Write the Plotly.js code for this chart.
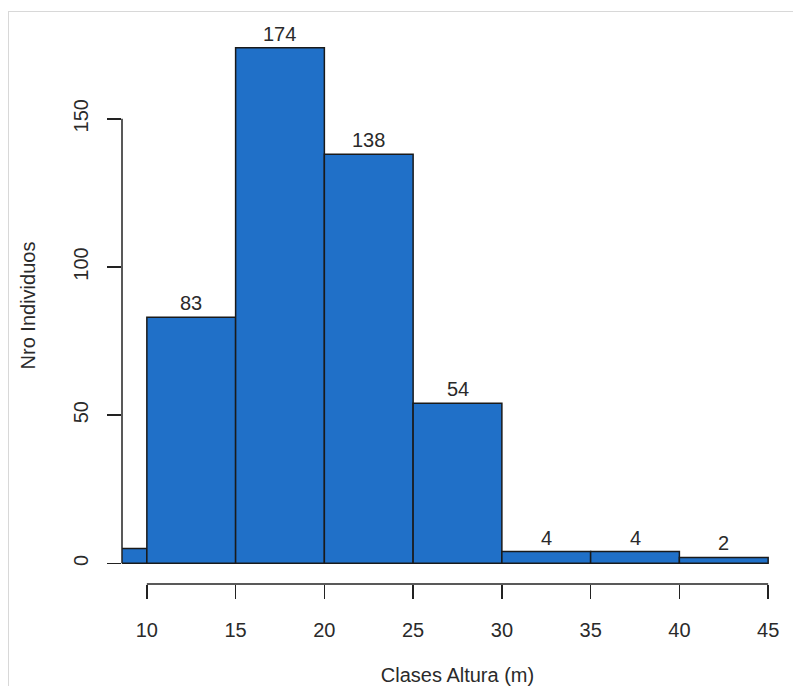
<!DOCTYPE html>
<html>
<head>
<meta charset="utf-8">
<script src="https://cdn.plot.ly/plotly-3.0.1.min.js"></script>
<style>
  html, body { margin: 0; padding: 0; background: #ffffff; }
  #wrap { position: relative; width: 793px; height: 686px; overflow: hidden; }
  #chart { position: absolute; left: 0; top: 0; width: 793px; height: 686px; }
  #frame { position: absolute; left: 8px; top: 11px; width: 800px; height: 700px;
           border-left: 1px solid #d8d8d8; border-top: 1px solid #d8d8d8; pointer-events: none; }
</style>
</head>
<body>
<div id="wrap">
  <div id="chart"></div>
  <div id="frame"></div>
</div>
<script>
// Height-class histogram: bin edges (m) and number of trees per bin
const breaks = [5, 10, 15, 20, 25, 30, 35, 40, 45];
const counts = [5, 83, 174, 138, 54, 4, 4, 2];
const xTicks = [10, 15, 20, 25, 30, 35, 40, 45];
const yTicks = [0, 50, 100, 150];

const mids = counts.map((_, i) => (breaks[i] + breaks[i + 1]) / 2);
const widths = counts.map((_, i) => breaks[i + 1] - breaks[i]);

const font = '"Liberation Sans", Arial, sans-serif';
const ink = '#222222';
const textInk = '#2a2a2a';
const xRange = [8.6, 46.4];

const bars = {
  type: 'bar',
  x: mids,
  y: counts,
  width: widths,
  marker: { color: '#2070c8', line: { color: '#1a1a1a', width: 1.5 } },
  hoverinfo: 'x+y',
  showlegend: false
};

// Count printed above each bar (bins whose centre lies outside the x range stay hidden)
const countLabels = mids.map((m, i) => ({
  xref: 'x', yref: 'y',
  x: m, y: counts[i],
  text: String(counts[i]),
  showarrow: false,
  xanchor: 'center', yanchor: 'bottom',
  yshift: 1,
  visible: m >= xRange[0] && m <= xRange[1],
  font: { family: font, size: 20, color: textInk }
}));

// R-style axis lines that only run from the first to the last tick
const axisLines = [
  { type: 'line', xref: 'x', yref: 'paper',
    x0: xTicks[0], x1: xTicks[xTicks.length - 1], y0: 0, y1: 0,
    line: { color: ink, width: 1.5 } },
  { type: 'line', xref: 'paper', yref: 'y',
    x0: 0, x1: 0, y0: yTicks[0], y1: yTicks[yTicks.length - 1],
    line: { color: ink, width: 1.5 } }
];

const layout = {
  width: 793,
  height: 686,
  margin: { l: 122, r: 0, t: 27, b: 102 },
  paper_bgcolor: '#ffffff',
  plot_bgcolor: '#ffffff',
  font: { family: font, size: 20, color: textInk },
  bargap: 0,
  xaxis: {
    range: xRange,
    tickvals: xTicks,
    ticktext: xTicks.map(String),
    ticks: 'outside',
    ticklen: 14,
    tickwidth: 1.5,
    tickcolor: ink,
    ticklabelstandoff: 14,
    showgrid: false,
    zeroline: false,
    showline: false,
    tickfont: { family: font, size: 20, color: textInk },
    title: { text: 'Clases Altura (m)', font: { family: font, size: 20, color: textInk }, standoff: 28 }
  },
  yaxis: {
    range: [-6.96, 180.96],
    tickvals: yTicks,
    ticktext: yTicks.map(String),
    tickangle: -90,
    ticks: 'outside',
    ticklen: 14,
    tickwidth: 1.5,
    tickcolor: ink,
    ticklabelstandoff: 11,
    showgrid: false,
    zeroline: false,
    showline: false,
    tickfont: { family: font, size: 20, color: textInk },
    title: { text: 'Nro Individuos', font: { family: font, size: 20, color: textInk }, standoff: 29 }
  },
  shapes: axisLines,
  annotations: countLabels
};

Plotly.newPlot('chart', [bars], layout, { displayModeBar: false, staticPlot: true });
</script>
</body>
</html>
